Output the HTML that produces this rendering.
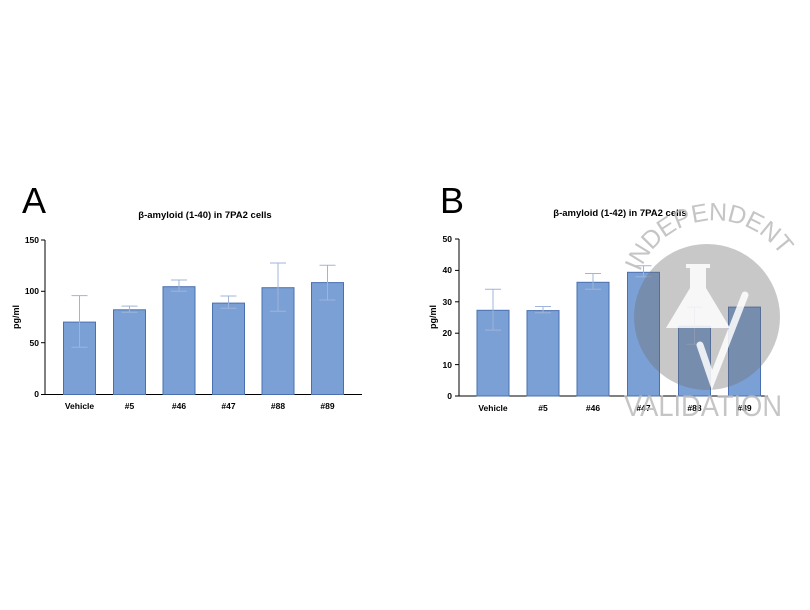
<!DOCTYPE html>
<html><head><meta charset="utf-8"><style>
html,body{margin:0;padding:0;background:#fff;}
svg{display:block;}
text{font-family:"Liberation Sans",sans-serif;}
</style></head><body>
<svg width="810" height="610" viewBox="0 0 810 610" xmlns="http://www.w3.org/2000/svg">
<text x="22" y="213" font-size="36" fill="#000" font-weight="300">A</text>
<text x="205" y="218" font-size="9.5" font-weight="bold" text-anchor="middle">β-amyloid (1-40) in 7PA2 cells</text>
<g stroke="#000" stroke-width="1" fill="none">
<line x1="45" y1="240" x2="45" y2="394.5"/>
<line x1="45" y1="394.5" x2="362" y2="394.5"/>
<line x1="41" y1="240" x2="45" y2="240"/>
<line x1="41" y1="291.3" x2="45" y2="291.3"/>
<line x1="41" y1="342.7" x2="45" y2="342.7"/>
<line x1="41" y1="394.5" x2="45" y2="394.5"/>
</g>
<g font-size="8.5" font-weight="bold" text-anchor="end">
<text x="39" y="243">150</text><text x="39" y="294">100</text><text x="39" y="346">50</text><text x="39" y="397">0</text>
</g>
<text transform="translate(19,317) rotate(-90)" font-size="9" font-weight="bold" text-anchor="middle">pg/ml</text>
<g fill="#7ba0d6" stroke="#4a70b0" stroke-width="1">
<rect x="63.5" y="322.1" width="32" height="72.4"/>
<rect x="113.5" y="309.8" width="32" height="84.7"/>
<rect x="163" y="286.7" width="32" height="107.8"/>
<rect x="212.5" y="303.1" width="32" height="91.4"/>
<rect x="262" y="287.7" width="32" height="106.8"/>
<rect x="311.5" y="282.6" width="32" height="111.9"/>
</g>
<g stroke="#9fb4d8" stroke-width="1" fill="none">
<path d="M79.5 347.3V295.6M71.5 295.6h16M71.5 347.3h16"/>
<path d="M129.5 312.3V306.1M121.5 306.1h16M121.5 312.3h16"/>
<path d="M179 291.3V280M171 280h16M171 291.3h16"/>
<path d="M228.5 308.2V296M220.5 296h16M220.5 308.2h16"/>
<path d="M278 311.3V263M270 263h16M270 311.3h16"/>
<path d="M327.5 300V265.2M319.5 265.2h16M319.5 300h16"/>
</g>
<g font-size="8.5" font-weight="bold" text-anchor="middle">
<text x="79.5" y="409">Vehicle</text><text x="129.5" y="409">#5</text><text x="179" y="409">#46</text><text x="228.5" y="409">#47</text><text x="278" y="409">#88</text><text x="327.5" y="409">#89</text>
</g>
<text x="440" y="213" font-size="36" fill="#000" font-weight="300">B</text>
<text x="620" y="216" font-size="9.5" font-weight="bold" text-anchor="middle">β-amyloid (1-42) in 7PA2 cells</text>
<g stroke="#000" stroke-width="1" fill="none">
<line x1="459" y1="239" x2="459" y2="396"/>
<line x1="459" y1="396" x2="768" y2="396"/>
<line x1="455" y1="239" x2="459" y2="239"/>
<line x1="455" y1="270.4" x2="459" y2="270.4"/>
<line x1="455" y1="301.8" x2="459" y2="301.8"/>
<line x1="455" y1="333.2" x2="459" y2="333.2"/>
<line x1="455" y1="364.6" x2="459" y2="364.6"/>
<line x1="455" y1="396" x2="459" y2="396"/>
</g>
<g font-size="8.5" font-weight="bold" text-anchor="end">
<text x="452" y="242">50</text><text x="452" y="273">40</text><text x="452" y="305">30</text><text x="452" y="336">20</text><text x="452" y="368">10</text><text x="452" y="399">0</text>
</g>
<text transform="translate(436,317) rotate(-90)" font-size="9" font-weight="bold" text-anchor="middle">pg/ml</text>
<g fill="#7ba0d6" stroke="#4a70b0" stroke-width="1">
<rect x="477" y="310.3" width="32" height="85.7"/>
<rect x="527" y="310.6" width="32" height="85.4"/>
<rect x="577" y="282.3" width="32" height="113.7"/>
<rect x="627.5" y="272.3" width="32" height="123.7"/>
<rect x="678.5" y="326.3" width="32" height="69.7"/>
<rect x="728.5" y="307.1" width="32" height="88.9"/>
</g>
<g stroke="#9fb4d8" stroke-width="1" fill="none">
<path d="M493 330.1V289.2M485 289.2h16M485 330.1h16"/>
<path d="M543 312.8V306.5M535 306.5h16M535 312.8h16"/>
<path d="M593 289.2V273.5M585 273.5h16M585 289.2h16"/>
<path d="M643.5 276.7V265.7M635.5 265.7h16M635.5 276.7h16"/>
<path d="M694.5 344.2V307.1M686.5 307.1h16M686.5 344.2h16"/>
</g>
<g font-size="8.5" font-weight="bold" text-anchor="middle">
<text x="493" y="411">Vehicle</text><text x="543" y="411">#5</text><text x="593" y="411">#46</text><text x="643.5" y="411">#47</text><text x="694.5" y="411">#88</text><text x="744.5" y="411">#89</text>
</g>
<circle cx="707" cy="317" r="73" fill="rgb(110,110,110)" fill-opacity="0.38"/>
<path d="M686 264h24v4h-4v20l24 40h-64l24-40v-20h-4z" fill="#fff" fill-opacity="0.85"/>
<path d="M700 345l12 35 33-85" stroke="#fff" stroke-opacity="0.85" stroke-width="7" fill="none" stroke-linecap="round"/>
<defs><path id="arc" d="M640 272 A80 80 0 0 1 785 262"/></defs>
<text font-size="25" fill="#bbb" fill-opacity="0.85"><textPath href="#arc" textLength="175" lengthAdjust="spacing">INDEPENDENT</textPath></text>
<text x="703" y="416" font-size="30" fill="#bbb" fill-opacity="0.85" text-anchor="middle" textLength="158" lengthAdjust="spacingAndGlyphs">VALIDATION</text>
</svg>
</body></html>
